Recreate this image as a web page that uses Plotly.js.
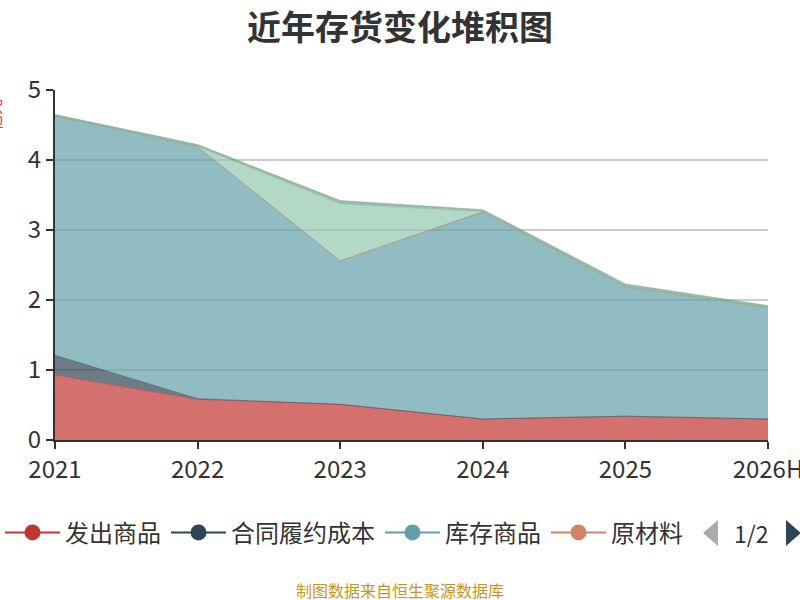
<!DOCTYPE html>
<html>
<head>
<meta charset="utf-8">
<script src="https://cdn.plot.ly/plotly-3.0.1.min.js"></script>
<style>
  html, body { margin: 0; padding: 0; background: #fff; }
  #chart { width: 800px; height: 600px; }
</style>
</head>
<body>
<div id="chart"></div>
<script>
/***** 存货堆积 *****/
var years = ['2021', '2022', '2023', '2024', '2025', '2026H'];

var faChu = [0.93, 0.58, 0.51, 0.30, 0.34, 0.30];      // 发出商品
var heTong = [0.28, 0.01, 0, 0, 0, 0];                 // 合同履约成本
var kuCun = [3.42, 3.60, 2.05, 2.96, 1.85, 1.59];      // 库存商品
var yuanCai = [0, 0, 0, 0, 0, 0];                      // 原材料
var zaiChan = [0, 0, 0.81, 0, 0, 0];                   // 在产品
var zhouZhuan = [0.02, 0.03, 0.05, 0.03, 0.04, 0.03];  // 周转材料

var names = ['发出商品', '合同履约成本', '库存商品', '原材料', '在产品', '周转材料'];
var values = [faChu, heTong, kuCun, yuanCai, zaiChan, zhouZhuan];
var colors = ['#c23531', '#2f4554', '#61a0a8', '#d48265', '#91c7ae', '#749f83'];

function rgba(hex, a) {
  var r = parseInt(hex.substr(1, 2), 16);
  var g = parseInt(hex.substr(3, 2), 16);
  var b = parseInt(hex.substr(5, 2), 16);
  return 'rgba(' + r + ',' + g + ',' + b + ',' + a + ')';
}

var data = [];
for (var i = 0; i < names.length; i++) {
  data.push({
    x: years,
    y: values[i],
    type: 'scatter',
    mode: 'lines',
    name: names[i],
    stackgroup: 'one',
    fillcolor: rgba(colors[i], 0.7),
    line: { color: rgba(colors[i], 0.5), width: 1 },
    showlegend: false,
    hoverinfo: 'x+y+name'
  });
}
// legend page 1 (line + circle icons)
for (var j = 0; j < 4; j++) {
  data.push({
    x: [null],
    y: [null],
    type: 'scatter',
    mode: 'lines+markers',
    name: names[j],
    marker: { color: colors[j], size: 20 },
    line: { color: colors[j], width: 2 },
    showlegend: true
  });
}

var font = '"Noto Sans CJK SC", "Noto Sans", sans-serif';
var px = function (v) { return (v - 55) / 713; };
var py = function (v) { return (440 - v) / 350; };

var layout = {
  width: 800,
  height: 600,
  margin: { l: 55, r: 32, t: 90, b: 160 },
  paper_bgcolor: '#fff',
  plot_bgcolor: '#fff',
  font: { family: font, color: '#333' },
  title: {
    text: '近年存货变化堆积图',
    font: { family: font, size: 34, color: '#333', weight: 700 },
    x: 0.5, xref: 'container', xanchor: 'center',
    y: 0.953, yref: 'container', yanchor: 'middle'
  },
  xaxis: {
    type: 'category',
    range: [0, 5],
    showgrid: false,
    zeroline: false,
    showline: true,
    linecolor: '#333',
    linewidth: 2,
    ticks: 'outside',
    ticklen: 7,
    tickwidth: 2,
    tickcolor: '#333',
    tickfont: { family: font, size: 24, color: '#333' }
  },
  yaxis: {
    range: [0, 5],
    dtick: 1,
    showgrid: true,
    gridcolor: '#ccc',
    gridwidth: 1.5,
    zeroline: false,
    showline: true,
    linecolor: '#333',
    linewidth: 2,
    ticks: 'outside',
    ticklen: 7,
    tickwidth: 2,
    tickcolor: '#333',
    tickfont: { family: font, size: 24, color: '#333' }
  },
  legend: {
    orientation: 'h',
    traceorder: 'normal',
    xref: 'container', x: -0.01, xanchor: 'left',
    yref: 'container', y: 0.112, yanchor: 'middle',
    font: { family: font, size: 24, color: '#333' },
    itemwidth: 55,
    bgcolor: 'rgba(0,0,0,0)'
  },
  shapes: [
    {
      type: 'path', xref: 'paper', yref: 'paper',
      path: 'M' + px(703) + ',' + py(533) + ' L' + px(718) + ',' + py(520) + ' L' + px(718) + ',' + py(546) + ' Z',
      fillcolor: '#aaa', line: { width: 0 }
    },
    {
      type: 'path', xref: 'paper', yref: 'paper',
      path: 'M' + px(786) + ',' + py(520) + ' L' + px(801) + ',' + py(533) + ' L' + px(786) + ',' + py(546) + ' Z',
      fillcolor: '#2f4554', line: { width: 0 }
    }
  ],
  annotations: [
    {
      text: '1/2', xref: 'paper', yref: 'paper',
      x: px(751), y: py(533), xanchor: 'center', yanchor: 'middle', showarrow: false,
      font: { family: font, size: 23, color: '#333' }
    },
    {
      text: '制图数据来自恒生聚源数据库', xref: 'paper', yref: 'paper',
      x: px(400), y: py(590), xanchor: 'center', yanchor: 'middle', showarrow: false,
      font: { family: font, size: 16, color: '#c8941f' }
    },
    {
      text: '亿元', xref: 'paper', yref: 'paper',
      x: px(-6), y: py(115), xanchor: 'center', yanchor: 'middle', showarrow: false, textangle: -90,
      font: { family: font, size: 16, color: '#e33' }
    }
  ]
};

var config = { displayModeBar: false, responsive: false };
Plotly.newPlot('chart', data, layout, config);
</script>
</body>
</html>
